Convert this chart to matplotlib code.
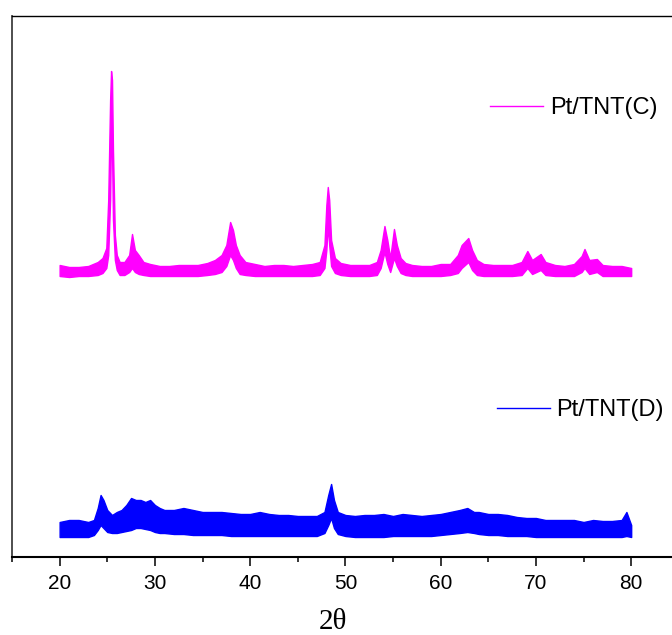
import numpy as np
import matplotlib
matplotlib.use("Agg")
import matplotlib.pyplot as plt
from matplotlib.lines import Line2D

plt.rcParams["font.family"] = ["Liberation Sans", "DejaVu Sans"]

# XRD patterns (a.u.); each pattern is kept as the
# lower and upper edge of the noise band at a set of 2-theta positions
x_c = [20.0, 21.0, 22.0, 23.0, 24.0, 24.5, 24.9, 25.1, 25.3, 25.4, 25.5, 25.6, 25.8, 26.0,
       26.3, 26.8, 27.3, 27.6, 27.9, 28.3, 28.8, 29.5, 30.5, 31.5, 32.5, 33.5, 34.5, 35.5,
       36.3, 37.0, 37.5, 37.9, 38.2, 38.5, 38.9, 39.5, 40.5, 41.5, 42.5, 43.5, 44.5, 45.5,
       46.5, 47.3, 47.8, 48.0, 48.15, 48.3, 48.5, 48.9, 49.5, 50.5, 51.5, 52.5, 53.3, 53.7,
       54.1, 54.4, 54.7, 55.1, 55.4, 55.8, 56.3, 57.0, 58.0, 59.0, 60.0, 61.0, 61.8, 62.2,
       62.9, 63.3, 63.8, 64.5, 65.5, 66.5, 67.5, 68.5, 69.1, 69.6, 70.5, 71.0, 72.0, 73.0,
       74.0, 74.8, 75.1, 75.6, 76.4, 77.0, 78.0, 79.0, 80.0]
lo_c = [21, 20, 21, 21, 22, 24, 29, 42, 97, 167, 147, 77, 37, 27,
        22, 22, 25, 29, 25, 23, 22, 21, 21, 21, 21, 21, 21, 22,
        23, 25, 31, 42, 37, 29, 23, 22, 21, 21, 21, 21, 21, 21,
        21, 22, 29, 47, 72, 52, 31, 24, 22, 21, 21, 21, 22, 29,
        45, 33, 25, 39, 31, 24, 22, 21, 21, 21, 21, 22, 24, 29,
        35, 27, 22, 21, 21, 21, 21, 22, 29, 23, 27, 22, 21, 21,
        21, 25, 29, 23, 25, 21, 21, 21, 21]
hi_c = [32, 30, 30, 31, 35, 39, 49, 97, 197, 226, 217, 147, 62, 42,
        35, 35, 42, 63, 47, 42, 35, 33, 31, 31, 32, 32, 32, 34,
        37, 42, 52, 75, 67, 52, 42, 35, 33, 31, 32, 32, 31, 32,
        33, 35, 52, 92, 110, 97, 57, 39, 34, 32, 32, 32, 35, 47,
        71, 57, 39, 68, 52, 39, 34, 32, 31, 31, 33, 33, 42, 52,
        59, 47, 37, 33, 32, 32, 32, 35, 46, 37, 43, 35, 32, 31,
        33, 41, 48, 37, 38, 32, 31, 31, 29]

x_d = [20.0, 21.0, 22.0, 23.0, 23.6, 24.0, 24.3, 24.6, 25.0, 25.5, 26.0, 26.5, 27.0, 27.5,
       28.0, 28.5, 29.0, 29.5, 30.0, 30.5, 31.0, 32.0, 33.0, 34.0, 35.0, 36.0, 37.0, 38.0,
       39.0, 40.0, 41.0, 42.0, 43.0, 44.0, 45.0, 46.0, 47.0, 47.8, 48.2, 48.5, 48.8, 49.2,
       50.0, 51.0, 52.0, 53.0, 54.0, 55.0, 56.0, 57.0, 58.0, 59.0, 60.0, 61.0, 62.0, 62.8,
       63.5, 64.0, 65.0, 66.0, 67.0, 68.0, 69.0, 70.0, 71.0, 72.0, 73.0, 74.0, 75.0, 76.0,
       77.0, 78.0, 79.0, 79.5, 80.0]
lo_d = [20, 20, 20, 20, 22, 27, 32, 29, 25, 24, 24, 25, 26, 27,
        29, 29, 28, 27, 25, 24, 24, 23, 23, 22, 22, 22, 22, 21,
        21, 21, 21, 21, 21, 21, 21, 21, 21, 24, 32, 39, 29, 23,
        21, 20, 20, 20, 20, 21, 21, 21, 21, 21, 22, 23, 24, 25,
        24, 23, 22, 22, 21, 21, 21, 20, 20, 20, 20, 20, 20, 20,
        20, 20, 20, 21, 20]
hi_d = [35, 37, 37, 35, 37, 49, 62, 57, 47, 42, 45, 47, 52, 59,
        57, 57, 55, 57, 52, 49, 47, 47, 49, 47, 45, 45, 45, 44,
        43, 43, 45, 43, 42, 42, 41, 41, 41, 45, 62, 73, 57, 45,
        42, 41, 42, 42, 43, 41, 43, 42, 41, 42, 43, 45, 47, 49,
        45, 45, 43, 43, 42, 40, 39, 39, 37, 37, 37, 37, 35, 37,
        36, 36, 37, 45, 32]

offset_c = 260  # vertical shift of the Pt/TNT(C) pattern
label_c = "Pt/TNT(C)"
label_d = "Pt/TNT(D)"
col_c = "#ff00ff"
col_d = "#0000ff"

fig = plt.figure(figsize=(6.72, 6.35), dpi=100)
ax = fig.add_axes([12 / 672, 78 / 635, 666.8 / 672, 541 / 635])

yc_lo = np.array(lo_c) + offset_c
yc_hi = np.array(hi_c) + offset_c
ax.fill_between(x_c, yc_lo, yc_hi, color=col_c, lw=1.0)
ax.fill_between(x_d, lo_d, hi_d, color=col_d, lw=1.0)

ax.set_xlim(15, 85)
ax.set_ylim(0, 541)
ax.set_xticks([20, 30, 40, 50, 60, 70, 80])
ax.set_xticks([15, 25, 35, 45, 55, 65, 75, 85], minor=True)
ax.set_yticks([])
ax.tick_params(axis="x", which="major", direction="out", length=6.5, width=1.1,
               pad=6, labelsize=15)
ax.tick_params(axis="x", which="minor", direction="out", length=3.6, width=1.1)

ax.spines["top"].set_linewidth(1.0)
ax.spines["bottom"].set_linewidth(1.5)
ax.spines["left"].set_linewidth(1.3)
ax.spines["left"].set_color("#404040")
ax.spines["right"].set_linewidth(1.0)

fig.text(333 / 672, 1 - 629 / 635, "2\u03b8", family="Liberation Serif", fontsize=21,
         ha="center", va="baseline")

# two separate legends, one per pattern
leg_font = {"family": "Liberation Sans", "size": 17}
leg1 = ax.legend([Line2D([], [], color=col_c, lw=1.0)], [label_c], loc="center left",
                 bbox_to_anchor=(490 / 672, 1 - 108 / 635), bbox_transform=fig.transFigure,
                 frameon=False, borderpad=0, borderaxespad=0, handlelength=2.25,
                 handletextpad=0.3, prop=leg_font)
ax.add_artist(leg1)
ax.legend([Line2D([], [], color=col_d, lw=1.0)], [label_d], loc="center left",
          bbox_to_anchor=(497 / 672, 1 - 410 / 635), bbox_transform=fig.transFigure,
          frameon=False, borderpad=0, borderaxespad=0, handlelength=2.25,
          handletextpad=0.25, prop=leg_font)

fig.savefig("out.png", dpi=100)
